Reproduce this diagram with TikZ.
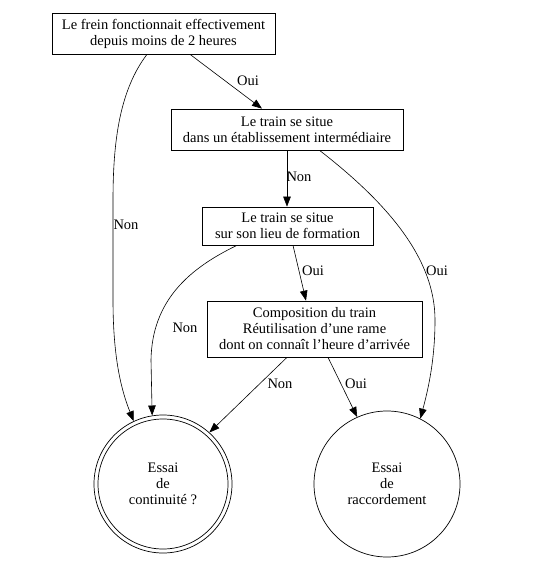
\documentclass[tikz,border=0pt]{standalone}
\usepackage{fontspec}
\setmainfont{Liberation Serif}
\usetikzlibrary{arrows.meta,calc}
\begin{document}
\begin{tikzpicture}[x=1pt,y=-1pt,
  every node/.style={font=\fontsize{14.5}{16}\selectfont},
  box/.style={draw,line width=0.7pt,align=center,inner sep=0pt},
  state/.style={draw,line width=0.7pt,circle,align=center,inner sep=0pt},
  lbl/.style={inner sep=0pt},
  edge/.style={line width=0.6pt,-{Triangle[length=10pt,width=7.5pt]}}]
\useasboundingbox (0,0) rectangle (542,561);
\fill[white] (0,0) rectangle (542,561);
% boxes
\node[box,minimum width=223pt,minimum height=41pt] (n1) at (163.5,33.5)
  {Le frein fonctionnait effectivement\\depuis moins de 2 heures};
\node[box,minimum width=232pt,minimum height=41pt] (n2) at (287,129.5)
  {Le train se situe\\dans un établissement intermédiaire};
\node[box,minimum width=171pt,minimum height=38pt] (n3) at (287.5,226)
  {Le train se situe\\sur son lieu de formation};
\node[box,minimum width=215pt,minimum height=56pt] (n4) at (314.5,329)
  {Composition du train\\Réutilisation d’une rame\\dont on connaît l’heure d’arrivée};
% terminal states
\node[state,minimum size=138pt] (c1) at (163,484) {Essai\\de\\continuité ?};
\draw[line width=0.7pt] (c1.center) circle (65);
\node[state,minimum size=146pt] (c2) at (387,484) {Essai\\de\\raccordement};
% edges
\draw[edge] ($(n1.south)+(26.5,0)$) -- (n2.north -| 262,0);
\draw[edge] ($(n1.south)+(-16.5,0)$) .. controls (120,90) and (113,140) .. (113,200)
  -- (113,300) .. controls (113,360) and (122,392) .. (c1.115);
\draw[edge] (n2.south -| 287,0) -- (n3.north -| 287,0);
\draw[edge] ($(n2.south)+(32.5,0)$) .. controls (390,205) and (435,260) .. (435,320)
  .. controls (435,360) and (428,390) .. (c2.63);
\draw[edge] ($(n3.south)+(5.5,0)$) -- (n4.north -| 306,0);
\draw[edge] ($(n3.south)+(-50.5,0)$) .. controls (190,268) and (152,300) .. (151,360)
  -- (c1.99.6);
\draw[edge] ($(n4.south)+(-27.5,0)$) -- (c1.48.8);
\draw[edge] ($(n4.south)+(13.5,0)$) -- (c2.114);
% labels
\node[lbl] (l1) at (248,81) {Oui};
\node[lbl] (l2) at (126,225) {Non};
\node[lbl] (l3) at (299,177) {Non};
\node[lbl] (l4) at (437,271) {Oui};
\node[lbl] (l5) at (313,271) {Oui};
\node[lbl] (l6) at (185,328) {Non};
\node[lbl] (l7) at (280,384) {Non};
\node[lbl] (l8) at (356,384) {Oui};
\end{tikzpicture}
\end{document}
